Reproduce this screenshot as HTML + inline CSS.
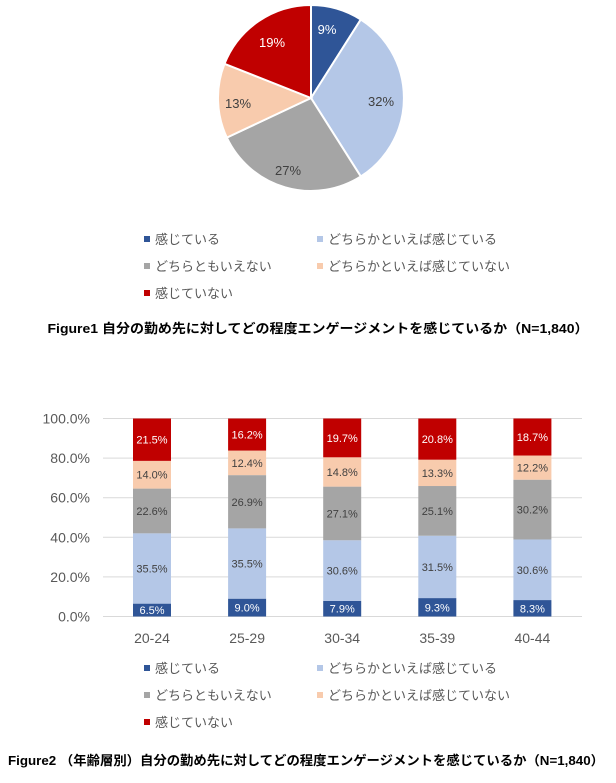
<!DOCTYPE html>
<html><head><meta charset="utf-8"><style>
body{margin:0;background:#fff;width:616px;height:778px;overflow:hidden}
svg text{font-family:"Liberation Sans","Noto Sans CJK JP",sans-serif}
</style></head><body>
<svg id="s" width="616" height="778" xmlns="http://www.w3.org/2000/svg">
<g stroke="#fff" stroke-width="2">
<path d="M311,98 L311,5 A93,93 0 0 1 360.8,19.5 Z" fill="#2f5597"/>
<path d="M311,98 L360.8,19.5 A93,93 0 0 1 360.8,176.5 Z" fill="#b4c7e7"/>
<path d="M311,98 L360.8,176.5 A93,93 0 0 1 226.8,137.6 Z" fill="#a5a5a5"/>
<path d="M311,98 L226.8,137.6 A93,93 0 0 1 224.5,63.8 Z" fill="#f8cbad"/>
<path d="M311,98 L224.5,63.8 A93,93 0 0 1 311,5 Z" fill="#c00000"/>
</g>
<g font-size="13" text-anchor="middle">
<text x="327" y="34" fill="#fff">9%</text>
<text x="381" y="106" fill="#404040">32%</text>
<text x="288" y="175" fill="#404040">27%</text>
<text x="238" y="108" fill="#404040">13%</text>
<text x="272" y="47" fill="#fff">19%</text>
</g>
<g id="leg1"></g>
<text x="318" y="333" font-size="13" font-weight="bold" text-anchor="middle" fill="#000" textLength="541" lengthAdjust="spacingAndGlyphs">Figure1  自分の勤め先に対してどの程度エンゲージメントを感じているか（N=1,840）</text>
<g id="chart"></g>
<text x="8" y="765" font-size="13" font-weight="bold" fill="#000" textLength="596" lengthAdjust="spacingAndGlyphs">Figure2  （年齢層別）自分の勤め先に対してどの程度エンゲージメントを感じているか（N=1,840）</text>
</svg>
<script>
(function(){
var NS="http://www.w3.org/2000/svg";
function el(p,t,a,txt){var e=document.createElementNS(NS,t);for(var k in a)e.setAttribute(k,a[k]);if(txt!=null)e.textContent=txt;p.appendChild(e);return e;}
var cols=["#2f5597","#b4c7e7","#a5a5a5","#f8cbad","#c00000"];
var names=["感じている","どちらかといえば感じている","どちらともいえない","どちらかといえば感じていない","感じていない"];
function legend(g,y0){
 var pos=[[147,y0],[320,y0],[147,y0+27],[320,y0+27],[147,y0+54]];
 for(var i=0;i<5;i++){
  el(g,"rect",{x:pos[i][0]-3,y:pos[i][1]-3,width:6,height:6,fill:cols[i]});
  el(g,"text",{x:pos[i][0]+8,y:pos[i][1]+5,"font-size":"13",fill:"#595959"},names[i]);
 }
}
legend(document.getElementById("leg1"),239);
var c=document.getElementById("chart");
var base=616.5,sc=1.98;
for(var i=0;i<=5;i++){var y=base-i*20*sc;
 el(c,"line",{x1:103,x2:582,y1:y,y2:y,stroke:"#d9d9d9","stroke-width":1});
 el(c,"text",{x:90,y:y+5,"font-size":"14","text-anchor":"end",fill:"#595959"},(i*20).toFixed(1)+"%");
}
var data=[[6.5,35.5,22.6,14.0,21.5],[9.0,35.5,26.9,12.4,16.2],[7.9,30.6,27.1,14.8,19.7],[9.3,31.5,25.1,13.3,20.8],[8.3,30.6,30.2,12.2,18.7]];
var labs=["20-24","25-29","30-34","35-39","40-44"];
for(var b=0;b<5;b++){var cx=152+b*95.1,cum=0;
 for(var k=0;k<5;k++){var v=data[b][k];var yt=(k==4)?100:cum+v;
  var y1=base-yt*sc,y2=base-cum*sc;
  el(c,"rect",{x:cx-19,y:y1,width:38,height:y2-y1,fill:cols[k]});
  el(c,"text",{x:cx,y:(y1+y2)/2+4,"font-size":"11","text-anchor":"middle",fill:(k==0||k==4)?"#fff":"#404040"},v.toFixed(1)+"%");
  cum+=v;}
 el(c,"text",{x:cx,y:643,"font-size":"14","text-anchor":"middle",fill:"#595959"},labs[b]);
}
var g2=el(document.getElementById("s"),"g",{});legend(g2,668);
})();
</script>
</body></html>
